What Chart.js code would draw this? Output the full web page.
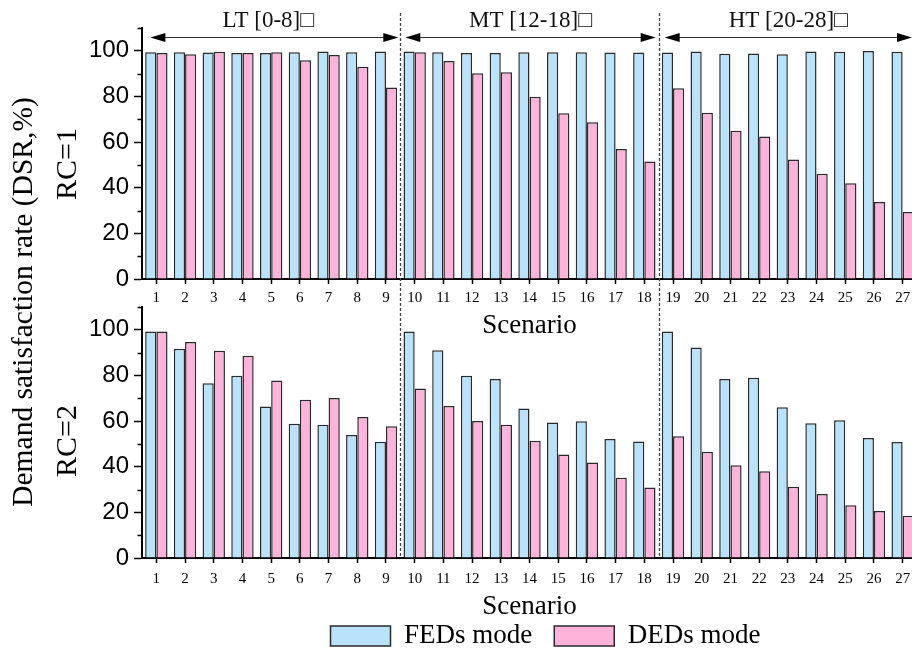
<!DOCTYPE html>
<html>
<head>
<meta charset="utf-8">
<script src="https://cdn.jsdelivr.net/npm/chart.js@4.4.1/dist/chart.umd.min.js"></script>
<style>
  html, body { margin: 0; padding: 0; background: #fff; overflow: hidden; }
  #wrap { position: relative; width: 912px; height: 657px; overflow: hidden; background: #fff; }
  #wrap canvas { position: absolute; left: 0; top: 0; }
</style>
</head>
<body>
<div id="wrap">
  <canvas id="rc2" width="918" height="657"></canvas>
  <canvas id="rc1" width="918" height="657"></canvas>
</div>
<script>
// Scenario categories (x axis)
const scenarios = ['1','2','3','4','5','6','7','8','9','10','11','12','13','14','15','16','17','18','19','20','21','22','23','24','25','26','27'];

// Demand satisfaction rate (%) for RC=1
const fedsRC1 = [99.4, 99.4, 99.3, 99.0, 99.0, 99.4, 99.7, 99.4, 99.7, 99.7, 99.4, 99.0, 99.0, 99.4, 99.4, 99.4, 99.3, 99.3, 99.3, 99.7, 98.7, 98.8, 98.5, 99.7, 99.6, 99.9, 99.6];
const dedsRC1 = [99.0, 98.5, 99.6, 99.0, 99.4, 95.9, 98.2, 93.0, 83.9, 99.4, 95.5, 90.2, 90.6, 79.9, 72.6, 68.7, 57.0, 51.5, 83.6, 72.9, 65.0, 62.4, 52.4, 46.1, 42.0, 33.7, 29.4];

// Demand satisfaction rate (%) for RC=2
const fedsRC2 = [99.3, 91.7, 76.6, 79.9, 66.4, 58.8, 58.4, 53.9, 50.9, 99.3, 91.0, 79.9, 78.4, 65.5, 59.4, 59.9, 52.1, 51.1, 99.3, 92.3, 78.4, 79.0, 66.1, 59.0, 60.4, 52.6, 50.8];
const dedsRC2 = [99.3, 94.7, 90.8, 88.6, 77.8, 69.3, 70.1, 61.8, 57.7, 74.3, 66.6, 60.0, 58.4, 51.4, 45.4, 41.9, 35.2, 30.9, 53.4, 46.6, 40.7, 38.0, 31.2, 28.0, 23.1, 20.6, 18.5];

// Axis ticks
const yMajorTicks = [0, 20, 40, 60, 80, 100];
const yMinorTicks = [10, 30, 50, 70, 90, 110];

// Temperature groups: label and first/last scenario index
const groupLabels = ['LT [0-8]\u25A1', 'MT [12-18]\u25A1', 'HT [20-28]\u25A1'];
const groupFirst = [0, 9, 18];
const groupLast = [8, 17, 26];

const SERIF = '"Liberation Serif", "Times New Roman", "DejaVu Serif", serif';
const SANS = '"Liberation Sans", Arial, "DejaVu Sans", sans-serif';
const BLUE = '#B9E3FB';
const PINK = '#FDB3DA';
const EDGE = '#2a2a2a';

// Short minor ticks on the y axis
const minorTicks = {
  id: 'minorTicks',
  afterDraw(chart) {
    const y = chart.scales.y;
    const ctx = chart.ctx;
    ctx.save();
    ctx.strokeStyle = '#000';
    ctx.lineWidth = 1.5;
    yMinorTicks.forEach(v => {
      const py = Math.round(y.getPixelForValue(v)) + 0.5;
      ctx.beginPath();
      ctx.moveTo(y.right - 4.5, py);
      ctx.lineTo(y.right, py);
      ctx.stroke();
    });
    ctx.restore();
  }
};

// Center the legend under the plot area instead of the whole canvas
const legendUnderPlot = {
  id: 'legendUnderPlot',
  afterLayout(chart) {
    const lg = chart.legend;
    if (!lg || !lg.options.display) return;
    const shift = (chart.chartArea.left + chart.chartArea.right) / 2 + 16 - (lg.left + lg.right) / 2;
    lg.left += shift;
    lg.right += shift;
  }
};

function arrowHead(ctx, tipX, y, dir) {
  ctx.beginPath();
  ctx.moveTo(tipX, y);
  ctx.lineTo(tipX - dir * 15, y - 4.5);
  ctx.lineTo(tipX - dir * 15, y + 4.5);
  ctx.closePath();
  ctx.fill();
}

// Group dividers, arrows, group titles and the shared y-axis titles
const decorations = {
  id: 'decorations',
  afterDraw(chart) {
    const x = chart.scales.x;
    const ctx = chart.ctx;
    const divs = [1, 2].map(g => (x.getPixelForValue(groupLast[g - 1]) + x.getPixelForValue(groupFirst[g])) / 2);
    ctx.save();
    // dotted dividers through both panels
    ctx.strokeStyle = '#444';
    ctx.lineWidth = 1.3;
    ctx.setLineDash([3, 2]);
    divs.forEach(d => {
      ctx.beginPath();
      ctx.moveTo(Math.round(d) + 0.5, 13);
      ctx.lineTo(Math.round(d) + 0.5, 557);
      ctx.stroke();
    });
    ctx.setLineDash([]);
    // double-headed arrows with group titles
    const ay = 37.5;
    const lefts = [x.getPixelForValue(groupFirst[0]) - 6, divs[0] + 5, divs[1] + 6];
    const rights = [divs[0] - 2, divs[1] - 3, chart.chartArea.right - 5];
    ctx.fillStyle = '#000';
    ctx.strokeStyle = '#333';
    ctx.lineWidth = 1.2;
    for (let i = 0; i < 3; i++) {
      ctx.beginPath();
      ctx.moveTo(lefts[i] + 8, ay);
      ctx.lineTo(rights[i] - 8, ay);
      ctx.stroke();
      arrowHead(ctx, lefts[i], ay, -1);
      arrowHead(ctx, rights[i], ay, 1);
      ctx.font = '23px ' + SERIF;
      ctx.textAlign = 'center';
      ctx.textBaseline = 'middle';
      ctx.fillStyle = '#111';
      ctx.fillText(groupLabels[i], (lefts[i] + rights[i]) / 2 - (i === 0 ? 6 : 0), 21);
      ctx.fillStyle = '#000';
    }
    // y-axis titles
    ctx.fillStyle = '#000';
    ctx.textAlign = 'center';
    ctx.textBaseline = 'middle';
    const vtext = (t, cx, cy, size) => {
      ctx.save();
      ctx.translate(cx, cy);
      ctx.rotate(-Math.PI / 2);
      ctx.font = size + 'px ' + SERIF;
      ctx.fillText(t, 0, 0);
      ctx.restore();
    };
    vtext('Demand satisfaction rate (DSR,%)', 24, 302, 29.5);
    vtext('RC=1', 68, 164, 30);
    vtext('RC=2', 68, 441, 30);
    ctx.restore();
  }
};

function panel(canvasId, feds, deds, opts) {
  return new Chart(document.getElementById(canvasId), {
    type: 'bar',
    data: {
      labels: scenarios,
      datasets: [
        { label: 'FEDs mode', data: feds, backgroundColor: BLUE, borderColor: EDGE, borderWidth: 1.5 },
        { label: 'DEDs mode', data: deds, backgroundColor: PINK, borderColor: EDGE, borderWidth: 1.5 }
      ]
    },
    options: {
      responsive: false,
      animation: false,
      devicePixelRatio: 1,
      datasets: { bar: { categoryPercentage: 0.78, barPercentage: 1.0 } },
      layout: { padding: opts.padding },
      plugins: {
        legend: opts.legend,
        tooltip: { enabled: false }
      },
      scales: {
        x: {
          type: 'category',
          offset: true,
          grid: { display: true, drawOnChartArea: false, offset: false, tickLength: 5, tickColor: '#000', tickWidth: 1.5 },
          border: { display: true, color: '#000', width: 2 },
          ticks: { font: { family: SERIF, size: 15 }, color: '#000', padding: opts.tickPad, maxRotation: 0, autoSkip: false },
          title: { display: true, text: 'Scenario', color: '#000', font: { family: SERIF, size: 27, lineHeight: 1.0 }, padding: { top: 0, bottom: opts.titlePad } },
          afterFit(s) { s.height = opts.xHeight; }
        },
        y: {
          min: 0,
          max: 110,
          afterBuildTicks(s) { s.ticks = yMajorTicks.map(v => ({ value: v })); },
          grid: { display: true, drawOnChartArea: false, tickLength: 8, tickColor: '#000', tickWidth: 1.5 },
          border: { display: true, color: '#000', width: 2 },
          ticks: { font: { family: SANS, size: 24 }, color: '#000', padding: 5 },
          afterFit(s) { s.width = 142; }
        }
      }
    },
    plugins: opts.plugins
  });
}

// Lower panel (RC=2) with the legend
panel('rc2', fedsRC2, dedsRC2, {
  padding: { left: 0, top: 307, right: 1, bottom: -2.5 },
  xHeight: 42.5,
  titlePad: -19.5,
  tickPad: 7,
  legend: {
    display: true,
    position: 'bottom',
    labels: { boxWidth: 60, boxHeight: 20, color: '#000', padding: 22, font: { family: SERIF, size: 27, lineHeight: 1.0 } }
  },
  plugins: [minorTicks, legendUnderPlot]
});

// Upper panel (RC=1) drawn on top, with group markers and titles
panel('rc1', fedsRC1, dedsRC1, {
  padding: { left: 0, top: 28, right: 1, bottom: 318 },
  xHeight: 60,
  titlePad: 0,
  tickPad: 5,
  legend: { display: false },
  plugins: [minorTicks, decorations]
});
</script>
</body>
</html>
